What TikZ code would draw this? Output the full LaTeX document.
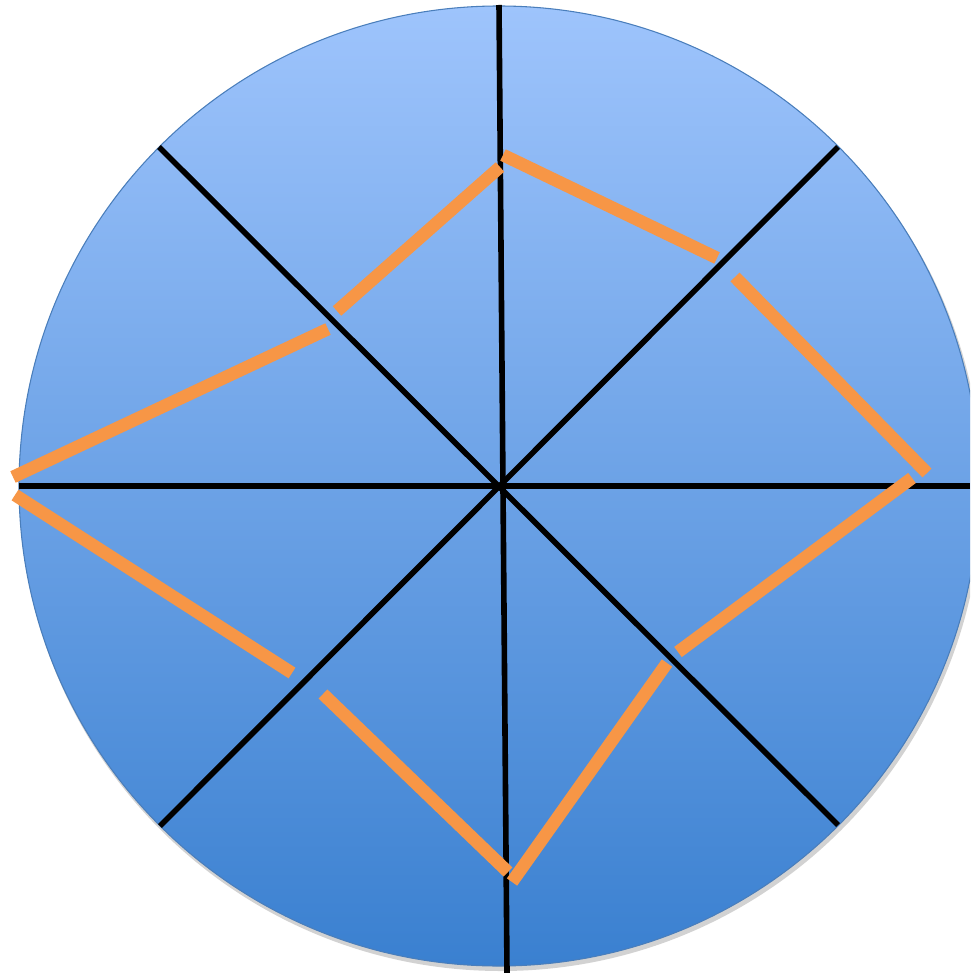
\documentclass[tikz,border=0pt]{standalone}
\definecolor{topblue}{RGB}{158,196,252}
\definecolor{midblue}{RGB}{128,176,238}
\definecolor{botblue}{RGB}{58,128,208}
\definecolor{rimblue}{RGB}{74,126,187}
\definecolor{orng}{RGB}{247,150,70}
\tikzset{
  spoke/.style={black, line width=4.2pt},
  chord/.style={orng, line width=9.5pt, line cap=butt},
}
\begin{document}
\begin{tikzpicture}[x=0.75pt,y=-0.75pt]
\useasboundingbox (0,0) rectangle (970,973);
\clip (0,0) rectangle (970,973);
\coordinate (c) at (499,486);
\fill[black!35, opacity=0.5] (501,490) circle[radius=481];
\shade[top color=topblue, middle color=midblue, bottom color=botblue, draw=rimblue, line width=0.8pt] (c) circle[radius=480];
% spokes
\coordinate (vt) at (499,5);
\coordinate (vb) at (507,973);
\coordinate (hl) at (19,486);
\coordinate (hr) at (970,486);
\coordinate (d1a) at (159,147);
\coordinate (d1b) at (838,825);
\coordinate (d2a) at (838,147);
\coordinate (d2b) at (160,826);
\draw[spoke] (vt) -- (vb);
\draw[spoke] (hl) -- (hr);
\draw[spoke] (d1a) -- (d1b);
\draw[spoke] (d2a) -- (d2b);
% orange chords
\coordinate (a1) at (13,477);  \coordinate (b1) at (328,329);
\coordinate (a2) at (337,311); \coordinate (b2) at (500,167);
\coordinate (a3) at (503,155); \coordinate (b3) at (717,258);
\coordinate (a4) at (735,277); \coordinate (b4) at (927,473);
\coordinate (a5) at (912,478); \coordinate (b5) at (678,652);
\coordinate (a6) at (667,663); \coordinate (b6) at (512,882);
\coordinate (a7) at (508,872); \coordinate (b7) at (323,694);
\coordinate (a8) at (292,673); \coordinate (b8) at (15,495);
\foreach \i in {1,...,8} {\draw[chord] (a\i) -- (b\i);}
\end{tikzpicture}
\end{document}
